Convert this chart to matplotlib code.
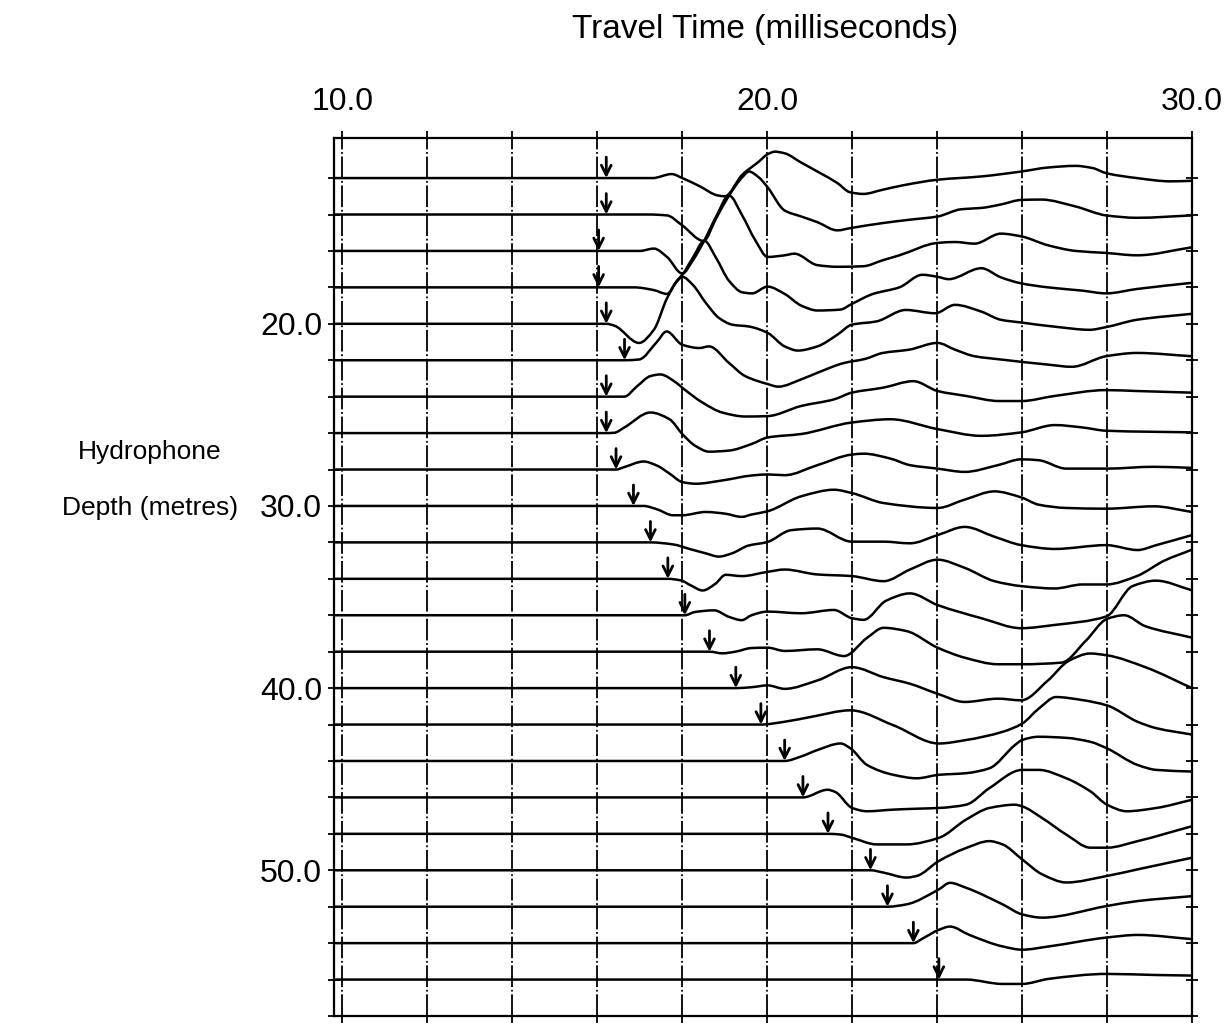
import numpy as np
import matplotlib
matplotlib.use("Agg")
import matplotlib.pyplot as plt
from matplotlib.path import Path
from matplotlib.patches import PathPatch
from matplotlib.ticker import FixedLocator, FormatStrFormatter

plt.rcParams["font.family"] = ["Liberation Sans", "DejaVu Sans"]
INK = "black"

# hydrophone depths (m) and first-break picks (ms)
DEPTHS = [12, 14, 16, 18, 20, 22, 24, 26, 28, 30, 32, 34, 36, 38, 40, 42, 44, 46, 48, 50, 52, 54, 56]
PICKS = [16.21, 16.21, 16.03, 16.03, 16.21, 16.64, 16.21, 16.21, 16.44, 16.85, 17.25, 17.66,
         18.06, 18.64, 19.26, 19.85, 20.41, 20.84, 21.43, 22.43, 22.83, 23.44, 24.04]

# trace samples: time (ms) and amplitude (m, upward positive)
t12 = [9.8, 16.21, 17.3, 17.75, 18.0, 18.41, 18.83, 19.0, 19.41, 19.8, 20.01, 20.18, 20.41, 20.8, 21.18, 21.65,
       21.95, 22.26, 22.72, 23.19, 24.01, 25.04, 25.98, 26.61, 27.26, 27.66, 27.98, 28.7, 29.5, 30.0]
a12 = [0, 0, 0, 0.22, 0.0, -0.45, -0.95, -1.0, 0.18, 0.9, 1.31, 1.45, 1.36, 0.85, 0.36, -0.27,
       -0.78, -0.87, -0.64, -0.4, -0.09, 0.09, 0.36, 0.58, 0.67, 0.55, 0.27, 0.0, -0.18, -0.15]
t14 = [9.8, 16.21, 17.2, 17.64, 18.0, 18.5, 18.79, 19.1, 19.41, 19.57, 19.8, 20.01, 20.41, 20.8, 21.18, 21.65,
       21.95, 22.72, 23.34, 24.01, 24.57, 25.04, 25.5, 25.98, 26.45, 27.26, 27.98, 28.7, 30.0]
a14 = [0, 0, 0, -0.05, -0.6, -1.45, -0.24, 1.04, 2.04, 2.36, 2.04, 1.49, 0.22, -0.11, -0.42, -0.87,
       -0.75, -0.47, -0.29, -0.11, 0.29, 0.36, 0.55, 0.8, 0.82, 0.44, -0.05, -0.18, -0.05]
t16 = [9.8, 16.03, 17.0, 17.33, 17.64, 18.0, 18.25, 18.52, 18.79, 19.1, 19.41, 19.72, 20.01, 20.41, 20.64,
       21.18, 21.65, 22.26, 22.72, 23.11, 24.01, 24.42, 24.88, 25.5, 25.98, 26.61, 27.26, 27.98, 28.7, 30.0]
a16 = [0, 0, 0, 0.13, -0.33, -1.24, -0.51, 0.58, 1.85, 3.04, 1.95, 0.58, -0.33, -0.24, -0.15,
       -0.78, -0.87, -0.84, -0.51, -0.24, 0.44, 0.49, 0.4, 0.95, 0.8, 0.31, 0.0, -0.11, -0.24, 0.2]
t18 = [9.8, 16.03, 16.87, 17.33, 17.64, 17.87, 18.0, 18.25, 18.52, 18.79, 19.1, 19.41, 19.64, 20.01, 20.41,
       20.8, 21.18, 21.72, 21.99, 22.49, 23.11, 23.65, 24.01, 24.27, 25.04, 25.5, 25.98, 26.61, 27.42, 27.98,
       28.7, 30.0]
a18 = [0, 0, 0, -0.15, -0.36, 0.36, 0.69, 1.64, 2.55, 1.64, 0.36, -0.27, -0.33, 0.04, -0.36,
       -1.0, -1.27, -1.22, -0.91, -0.36, 0.0, 0.69, 0.58, 0.45, 1.05, 0.55, 0.22, 0.0, -0.18, -0.33,
       -0.09, 0.25]
t20 = [9.8, 16.21, 16.4, 16.98, 17.33, 17.64, 17.87, 18.0, 18.25, 18.56, 18.87, 19.18, 19.57, 20.01, 20.41,
       20.72, 21.18, 21.65, 21.99, 22.57, 23.26, 23.95, 24.42, 25.04, 25.5, 25.98, 26.85, 27.59, 27.98, 28.7, 30.0]
a20 = [0, 0, -0.1, -1.05, -0.33, 1.4, 2.31, 2.58, 2.13, 1.13, 0.31, -0.05, -0.15, -0.5, -1.24,
       -1.47, -1.24, -0.6, -0.05, 0.13, 0.76, 0.58, 1.04, 0.67, 0.22, 0.07, -0.18, -0.33, -0.18, 0.22, 0.55]
t22 = [9.8, 16.64, 16.98, 17.4, 17.63, 18.0, 18.4, 18.63, 19.1, 19.48, 20.0, 20.26, 20.8, 21.18, 21.81, 22.3,
       22.72, 23.34, 24.01, 24.42, 24.88, 25.5, 26.61, 27.17, 27.98, 28.7, 30.0]
a22 = [0, 0, 0.04, 1.0, 1.58, 0.85, 0.67, 0.76, -0.15, -0.87, -1.3, -1.45, -1.05, -0.69, -0.15, 0.07,
       0.4, 0.58, 0.95, 0.58, 0.22, 0.04, -0.24, -0.36, 0.22, 0.4, 0.22]
t24 = [9.8, 16.21, 16.63, 16.94, 17.25, 17.48, 17.86, 18.0, 18.48, 18.94, 19.48, 20.0, 20.8, 21.57, 21.99,
       22.72, 23.44, 24.01, 24.68, 25.46, 25.98, 26.77, 27.98, 28.7, 30.0]
a24 = [0, 0, 0.0, 0.58, 1.13, 1.22, 0.76, 0.49, -0.33, -0.87, -1.09, -1.07, -0.51, -0.15, 0.22,
       0.49, 0.85, 0.31, 0.04, -0.24, -0.24, 0.04, 0.36, 0.31, 0.22]
t26 = [9.8, 16.21, 16.4, 16.63, 17.25, 17.7, 18.0, 18.3, 18.63, 19.1, 19.63, 20.01, 20.8, 21.99, 22.9, 24.01,
       25.04, 25.98, 26.77, 27.42, 27.98, 30.0]
a26 = [0, 0, 0.02, 0.3, 1.13, 0.76, -0.05, -0.69, -1.02, -0.96, -0.6, -0.24, -0.05, 0.58, 0.76, 0.22,
       -0.15, 0.04, 0.44, 0.31, 0.13, 0.04]
t28 = [9.8, 16.44, 16.63, 17.09, 17.4, 17.71, 18.0, 18.32, 18.94, 19.63, 20.01, 20.41, 21.18, 21.99, 22.27,
       22.9, 23.36, 24.01, 24.65, 25.43, 25.98, 26.39, 27.04, 27.98, 29.1, 30.0]
a28 = [0, 0, 0.13, 0.44, 0.22, -0.24, -0.69, -0.78, -0.6, -0.33, -0.27, -0.31, 0.24, 0.82, 0.87,
       0.6, 0.24, 0.05, -0.13, 0.24, 0.56, 0.51, 0.05, 0.05, 0.15, 0.09]
t30 = [9.8, 16.85, 17.09, 17.4, 17.78, 18.0, 18.55, 19.0, 19.4, 19.63, 20.01, 20.8, 21.57, 21.99, 22.74,
       24.01, 24.65, 25.35, 25.98, 26.39, 27.04, 27.98, 29.1, 30.0]
a30 = [0, 0, 0, -0.18, -0.51, -0.51, -0.33, -0.42, -0.6, -0.47, -0.29, 0.53, 0.89, 0.71, 0.16,
       -0.11, 0.35, 0.8, 0.47, 0.07, -0.11, -0.15, -0.02, -0.33]
t32 = [9.8, 17.25, 17.78, 18.17, 18.55, 18.86, 19.17, 19.55, 20.0, 20.56, 21.18, 21.99, 22.74, 23.36, 24.01,
       24.65, 25.35, 25.98, 26.77, 27.98, 28.72, 29.16, 30.0]
a32 = [0, 0, -0.11, -0.36, -0.6, -0.78, -0.6, -0.18, 0.02, 0.67, 0.76, 0.04, 0.04, -0.05, 0.4,
       0.85, 0.31, -0.15, -0.36, -0.15, -0.42, -0.15, 0.4]
t34 = [9.8, 17.66, 17.97, 18.2, 18.48, 18.78, 19.02, 19.4, 20.0, 20.41, 21.18, 21.99, 22.74, 23.36, 24.01,
       24.65, 25.35, 25.98, 26.77, 27.42, 27.98, 28.7, 29.35, 30.0]
a34 = [0, 0, -0.09, -0.36, -0.64, -0.27, 0.22, 0.15, 0.38, 0.51, 0.24, 0.15, -0.13, 0.51, 1.05,
       0.6, -0.13, -0.4, -0.53, -0.31, -0.31, 0.15, 1.0, 1.6]
t36 = [9.8, 18.06, 18.3, 18.75, 19.1, 19.4, 19.63, 20.0, 20.8, 21.57, 21.99, 22.27, 22.8, 23.36, 24.01,
       25.04, 25.98, 26.77, 27.98, 28.6, 29.15, 30.0]
a36 = [0, 0, 0.18, 0.27, -0.09, -0.27, 0.0, 0.2, 0.11, 0.29, -0.16, -0.25, 0.8, 1.2, 0.56,
       -0.16, -0.71, -0.53, -0.07, 1.6, 1.9, 1.37]
t38 = [9.8, 18.64, 18.94, 19.25, 19.63, 20.01, 20.41, 21.18, 21.81, 22.35, 22.74, 23.28, 24.01, 24.65,
       25.43, 25.98, 26.93, 27.5, 28.0, 28.4, 28.9, 30.0]
a38 = [0, 0, -0.09, 0.0, 0.2, 0.22, 0.04, 0.13, -0.24, 0.76, 1.31, 1.13, 0.22, -0.33,
       -0.69, -0.69, -0.6, 0.6, 1.8, 2.0, 1.4, 0.77]
t40 = [9.8, 19.26, 19.63, 20.01, 20.41, 21.18, 21.99, 22.74, 23.36, 24.01, 24.65, 25.43, 25.98, 26.6,
       27.1, 27.6, 28.0, 28.9, 30.0]
a40 = [0, 0, 0.05, 0.15, -0.04, 0.42, 1.15, 0.6, 0.24, -0.31, -0.76, -0.58, -0.67, 0.4,
       1.5, 1.9, 1.8, 1.15, 0.0]
t42 = [9.8, 19.85, 20.4, 21.03, 21.96, 22.97, 24.04, 24.68, 25.54, 26.0, 26.39, 26.8, 27.4, 28.0, 28.72,
       29.16, 30.0]
a42 = [0, 0, 0.15, 0.42, 0.78, -0.04, -1.04, -0.85, -0.4, 0.05, 0.87, 1.51, 1.35, 1.05, 0.15,
       -0.2, -0.55]
t44 = [9.8, 20.41, 20.79, 21.18, 21.73, 21.96, 22.35, 22.97, 23.52, 24.04, 24.68, 25.23, 25.83, 26.0, 26.39,
       27.04, 27.61, 28.0, 28.72, 29.16, 30.0]
a44 = [0, 0, 0.24, 0.6, 0.96, 0.69, -0.22, -0.76, -0.95, -0.76, -0.67, -0.4, 0.87, 1.15, 1.33,
       1.27, 1.05, 0.69, -0.22, -0.49, -0.58]
t46 = [9.8, 20.84, 21.42, 21.6, 22.0, 22.35, 22.97, 23.52, 24.04, 24.68, 25.23, 26.0, 26.39, 27.04, 27.61,
       28.0, 28.46, 29.16, 30.0]
a46 = [0, 0, 0.42, 0.3, -0.58, -0.76, -0.67, -0.62, -0.58, -0.4, 0.51, 1.51, 1.51, 1.05, 0.33,
       -0.4, -0.76, -0.58, -0.13]
t48 = [9.8, 21.43, 21.73, 22.0, 22.58, 23.28, 24.04, 24.68, 25.23, 25.83, 26.0, 26.47, 27.04, 27.61, 28.0,
       28.72, 30.0]
a48 = [0, 0, -0.04, -0.22, -0.58, -0.58, -0.22, 0.78, 1.42, 1.6, 1.51, 0.87, -0.04, -0.76, -0.76,
       -0.4, 0.42]
t50 = [9.8, 22.43, 22.74, 23.28, 23.52, 24.04, 24.68, 25.23, 25.54, 26.0, 26.47, 27.04, 28.0, 28.72, 30.0]
a50 = [0, 0, -0.13, -0.4, -0.31, 0.51, 1.22, 1.6, 1.42, 0.6, -0.22, -0.67, -0.31, 0.05, 0.69]
t52 = [9.8, 22.83, 23.28, 24.04, 24.3, 24.68, 25.54, 26.0, 26.47, 28.0, 28.72, 30.0]
a52 = [0, 0, 0.13, 0.95, 1.31, 1.04, 0.13, -0.42, -0.6, 0.04, 0.31, 0.58]
t54 = [9.8, 23.44, 23.67, 24.04, 24.3, 24.76, 25.54, 26.0, 26.63, 28.0, 28.72, 30.0]
a54 = [0, 0, 0.27, 0.73, 0.91, 0.45, -0.18, -0.36, -0.18, 0.31, 0.45, 0.22]
t56 = [9.8, 24.04, 24.68, 25.54, 26.0, 26.63, 28.0, 29.16, 30.0]
a56 = [0, 0, 0.0, -0.24, -0.24, 0.04, 0.31, 0.25, 0.22]

XTICKS = [10, 20, 30]
YTICKS = [20, 30, 40, 50]

TRACES = [(t12, a12), (t14, a14), (t16, a16), (t18, a18), (t20, a20), (t22, a22), (t24, a24), (t26, a26),
          (t28, a28), (t30, a30), (t32, a32), (t34, a34), (t36, a36), (t38, a38), (t40, a40), (t42, a42),
          (t44, a44), (t46, a46), (t48, a48), (t50, a50), (t52, a52), (t54, a54), (t56, a56)]


def trace_path(t, a, depth):
    # smooth bezier through the samples (monotone hermite tangents, no overshoot)
    x = np.asarray(t, float); y = np.asarray(a, float)
    h = np.diff(x); d = np.diff(y) / h
    m = np.zeros_like(x); m[0] = d[0]; m[-1] = d[-1]
    for i in range(1, len(x) - 1):
        if d[i - 1] * d[i] > 0:
            w1 = 2 * h[i] + h[i - 1]; w2 = h[i] + 2 * h[i - 1]
            m[i] = (w1 + w2) / (w1 / d[i - 1] + w2 / d[i])
    verts = [(x[0], depth - y[0])]; codes = [Path.MOVETO]
    for i in range(len(h)):
        verts += [(x[i] + h[i] / 3, depth - (y[i] + m[i] * h[i] / 3)),
                  (x[i + 1] - h[i] / 3, depth - (y[i + 1] - m[i + 1] * h[i] / 3)),
                  (x[i + 1], depth - y[i + 1])]
        codes += [Path.CURVE4] * 3
    return Path(verts, codes)


fig = plt.figure(figsize=(12.3, 10.24), dpi=100)
ax = fig.add_axes([334 / 1230, 1 - 1016 / 1024, (1192 - 334) / 1230, (1016 - 138) / 1024])
ax.set_xlim(9.8, 30); ax.set_ylim(58, 9.8)

for t in range(10, 30, 2):
    ax.axvline(t, color=INK, lw=1.3, ls=(0, (12, 1.5, 1, 1.5)), zorder=1)

for (t, a), dep in zip(TRACES, DEPTHS):
    ax.add_patch(PathPatch(trace_path(t, a, dep), fill=False, ec=INK, lw=1.8,
                           joinstyle="round", capstyle="round", zorder=3))

for p, dep in zip(PICKS, DEPTHS):
    ax.annotate("", xy=(p, dep), xytext=(p, dep - 1.15),
                arrowprops=dict(arrowstyle="->,head_length=0.7,head_width=0.35", color=INK, lw=2.0,
                                shrinkA=0, shrinkB=0), zorder=4)

for s in ax.spines.values():
    s.set_color(INK); s.set_linewidth(1.6)

ax.xaxis.set_major_locator(FixedLocator(XTICKS))
ax.xaxis.set_minor_locator(FixedLocator(list(range(10, 31, 2))))
ax.xaxis.set_major_formatter(FormatStrFormatter("%.1f"))
ax.tick_params(axis="x", which="both", top=True, bottom=True, labeltop=True, labelbottom=False,
               direction="out", length=5, width=1.3, color=INK, pad=10, labelsize=23, labelcolor=INK)
ax.yaxis.set_major_locator(FixedLocator(YTICKS))
ax.yaxis.set_minor_locator(FixedLocator(list(range(12, 59, 2))))
ax.yaxis.set_major_formatter(FormatStrFormatter("%.1f"))
ax.tick_params(axis="y", which="both", left=True, right=True, direction="inout", length=9, width=1.3,
               color=INK, pad=4, labelsize=23, labelcolor=INK)

fig.text(0.622, 0.971, "Travel Time (milliseconds)", ha="center", va="center", fontsize=24, color=INK)
fig.text(150 / 1230, 1 - 452 / 1024, "Hydrophone", ha="center", va="center", fontsize=19, color=INK)
fig.text(150 / 1230, 1 - 508 / 1024, "Depth (metres)", ha="center", va="center", fontsize=19, color=INK)

fig.savefig("out.png", dpi=100)
